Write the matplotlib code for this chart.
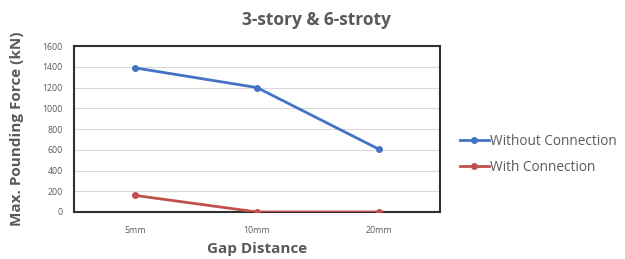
import matplotlib
matplotlib.use("Agg")
import matplotlib.pyplot as plt

categories = ["5mm", "10mm", "20mm"]
without_conn = [1390, 1200, 605]
with_conn = [160, 0, 0]
yticks = [0, 200, 400, 600, 800, 1000, 1200, 1400, 1600]

plt.rcParams['font.family'] = ['Open Sans', 'DejaVu Sans']

fig = plt.figure(figsize=(6.25, 2.59), dpi=100)
ax = fig.add_axes([0.1184, 0.1815, 0.704 - 0.1184, 0.822 - 0.1815])

x = list(range(len(categories)))
ax.plot(x, without_conn, color="#4472C4", lw=2, marker="o", ms=4, label="Without Connection", zorder=3)
ax.plot(x, with_conn, color="#C0504D", lw=2, marker="o", ms=4, label="With Connection", zorder=3)

ax.set_xlim(-0.5, 2.5)
ax.set_ylim(0, 1600)
ax.set_xticks(x)
ax.set_xticklabels(categories)
ax.set_yticks(yticks)
ax.tick_params(axis="both", length=0, labelsize=6.3, labelcolor="#595959")
ax.tick_params(axis="y", pad=8)
ax.tick_params(axis="x", pad=10)
ax.grid(axis="y", color="#D9D9D9", lw=0.8)
ax.set_axisbelow(True)
for s in ax.spines.values():
    s.set_color("#303030")
    s.set_linewidth(1.5)

fig.text(0.506, 0.923, "3-story & 6-stroty", fontsize=12.5, color="#595959",
         fontweight="bold", ha="center", va="center")
ax.set_xlabel("Gap Distance", fontsize=11, color="#595959", fontweight="bold", labelpad=5)
ax.set_ylabel("Max. Pounding Force (kN)", fontsize=11, color="#595959", fontweight="bold", labelpad=13)

leg = ax.legend(loc="center left", bbox_to_anchor=(0.736, 0.405), bbox_transform=fig.transFigure,
                frameon=False, fontsize=9.8, borderpad=0, borderaxespad=0,
                labelcolor="#595959", handlelength=2.1, handletextpad=0.1, labelspacing=0.8)

fig.savefig("out.png", dpi=100)
